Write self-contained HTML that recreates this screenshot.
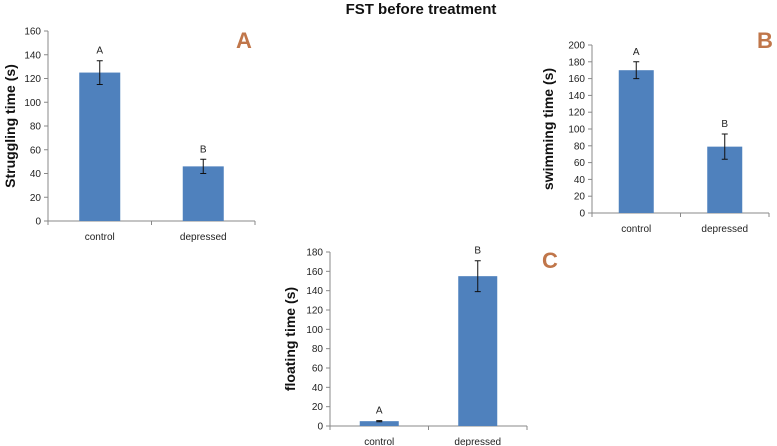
<!DOCTYPE html>
<html><head><meta charset="utf-8"><style>
html,body{margin:0;padding:0;background:#fff;}
svg{display:block;font-family:"Liberation Sans",Arial,sans-serif;}
</style></head><body>
<svg id="fig" width="777" height="446" viewBox="0 0 777 446">
<text x="421" y="14" text-anchor="middle" font-size="15" font-weight="bold" fill="#111">FST before treatment</text>
</svg>
<script>
const categories = ["control", "depressed"];
const valuesA = [125, 46];
const errorsA = [10, 6];
const lettersA = ["A", "B"];
const ticksA = [0, 20, 40, 60, 80, 100, 120, 140, 160];
const valuesB = [170, 79];
const errorsB = [10, 15];
const lettersB = ["A", "B"];
const ticksB = [0, 20, 40, 60, 80, 100, 120, 140, 160, 180, 200];
const valuesC = [5, 155];
const errorsC = [0.6, 16];
const lettersC = ["A", "B"];
const ticksC = [0, 20, 40, 60, 80, 100, 120, 140, 160, 180];

const NS = "http://www.w3.org/2000/svg";
const svg = document.getElementById("fig");
function mk(tag, attrs, parent, text) {
  const e = document.createElementNS(NS, tag);
  for (const k in attrs) e.setAttribute(k, attrs[k]);
  if (text !== undefined) e.textContent = text;
  parent.appendChild(e);
  return e;
}

function panel(cfg, values, errors, letters, ticks) {
  const g = mk("g", {}, svg);
  
  
  const max = ticks[ticks.length - 1];
  const y = v => cfg.y0 - (v / max) * (cfg.y0 - cfg.yTop);
  const n = categories.length;
  const slot = (cfg.xEnd - cfg.x0) / n;
  const xc = i => cfg.x0 + slot * (i + 0.5);
  // axes
  const ya = mk("line", {x1: cfg.x0, x2: cfg.x0, y1: cfg.yTop, y2: cfg.y0, stroke: "#888", "stroke-width": 1}, g);
  
  
  const xa = mk("line", {x1: cfg.x0, x2: cfg.xEnd, y1: cfg.y0, y2: cfg.y0, stroke: "#888", "stroke-width": 1}, g);
  
  
  for (let i = 0; i <= n; i++) {
    const xx = cfg.x0 + slot * i;
    mk("line", {x1: xx, x2: xx, y1: cfg.y0, y2: cfg.y0 + 4, stroke: "#888"}, g);
  }
  ticks.forEach(t => {
    mk("line", {x1: cfg.x0 - 4, x2: cfg.x0, y1: y(t), y2: y(t), stroke: "#888"}, g);
    const tl = mk("text", {x: cfg.x0 - 7, y: y(t) + 3.5, "text-anchor": "end", "font-size": 10, fill: "#222"}, g, String(t));
    
    
  });
  categories.forEach((c, i) => {
    const bx = xc(i) - cfg.bw / 2;
    const r = mk("rect", {x: bx, y: y(values[i]), width: cfg.bw, height: cfg.y0 - y(values[i]), fill: "#4f81bd"}, g);
    
    
    const hi = y(values[i] + errors[i]), lo = y(values[i] - errors[i]);
    const eb = mk("path", {d: `M${xc(i)} ${hi}V${lo}M${xc(i) - 3} ${hi}H${xc(i) + 3}M${xc(i) - 3} ${lo}H${xc(i) + 3}`, stroke: "#111", "stroke-width": 1, fill: "none"}, g);
    
    
    const lt = mk("text", {x: xc(i), y: hi - 7, "text-anchor": "middle", "font-size": 10, fill: "#222"}, g, letters[i]);
    
    
    const cl = mk("text", {x: xc(i), y: cfg.y0 + 19, "text-anchor": "middle", "font-size": 10, fill: "#222"}, g, c);
    
    
  });
  const yt = mk("text", {x: cfg.titleX, y: (cfg.y0 + cfg.yTop) / 2, "text-anchor": "middle", "font-size": 14, "font-weight": "bold", fill: "#111", transform: `rotate(-90 ${cfg.titleX} ${(cfg.y0 + cfg.yTop) / 2})`}, g, cfg.title);
  
  
  const pl = mk("text", {x: cfg.lx, y: cfg.ly, "font-size": 22, "font-weight": "bold", fill: "#c0764a"}, g, cfg.letter);
  
  
}

panel({name: "panel-a", x0: 48, xEnd: 255, y0: 221, yTop: 31, bw: 41, titleX: 15, title: "Struggling time (s)", letter: "A", lx: 236, ly: 48}, valuesA, errorsA, lettersA, ticksA);
panel({name: "panel-b", x0: 592, xEnd: 769, y0: 213, yTop: 45, bw: 35, titleX: 553, title: "swimming time (s)", letter: "B", lx: 757, ly: 48}, valuesB, errorsB, lettersB, ticksB);
panel({name: "panel-c", x0: 330, xEnd: 527, y0: 426, yTop: 252, bw: 39, titleX: 295, title: "floating time (s)", letter: "C", lx: 542, ly: 268}, valuesC, errorsC, lettersC, ticksC);
</script>
</body></html>
